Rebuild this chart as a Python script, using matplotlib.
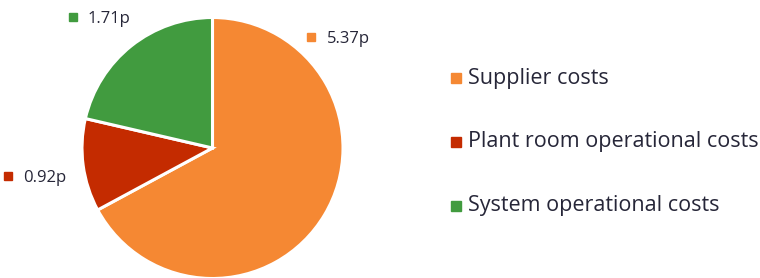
import matplotlib
matplotlib.use("Agg")
import matplotlib.pyplot as plt

categories = ["Supplier costs", "Plant room operational costs", "System operational costs"]
values = [5.37, 0.92, 1.71]
value_labels = ["5.37p", "0.92p", "1.71p"]
colors = ["#F58833", "#C42B00", "#419B3F"]

plt.rcParams['font.family'] = ['Open Sans', 'DejaVu Sans']
TXT = "#262638"

W, H = 760, 278
fig = plt.figure(figsize=(W / 100, H / 100), dpi=100)
ax = fig.add_axes([0, 0, 1, 1])

cx, cy, r = 212.5, H - 148, 130.5
ax.pie(values, colors=colors, startangle=90, counterclock=False,
       center=(cx, cy), radius=r, frame=True,
       wedgeprops=dict(edgecolor="white", linewidth=2.2, joinstyle='miter'))
ax.set_xlim(0, W)
ax.set_ylim(0, H)
ax.set_aspect('equal')
ax.axis('off')

# data labels (marker centre in image px)
label_pos = [(311, 37), (8, 175.5), (72.5, 17)]
for (x, y), lab, c in zip(label_pos, value_labels, colors):
    ax.plot([x], [H - y], marker='s', markersize=5.3, color=c, linestyle='none')
    ax.text(x + 15.5, H - (y + 6.2), lab, fontsize=12, color=TXT, va='baseline', ha='left')

# legend
leg_y = [78, 141.5, 205.5]
for y, cat, c in zip(leg_y, categories, colors):
    ax.plot([456], [H - y], marker='s', markersize=7.2, color=c, linestyle='none')
    ax.text(467.5, H - (y + 6.0), cat, fontsize=15.5, color=TXT, va='baseline', ha='left')

fig.savefig("out.png", dpi=100)
